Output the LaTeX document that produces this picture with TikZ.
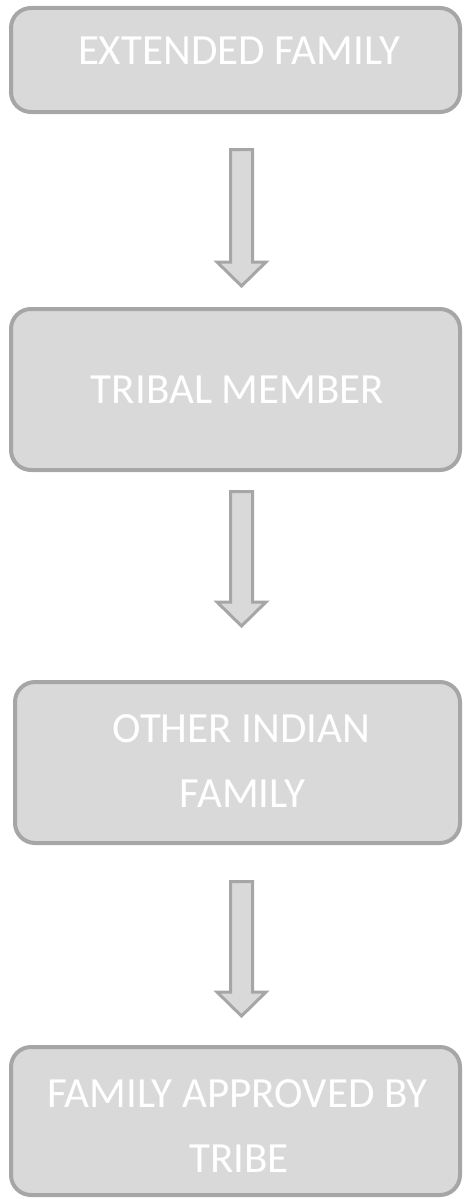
\documentclass[tikz,border=0pt]{standalone}
\usepackage{fontspec}
\setmainfont{Carlito}
\definecolor{boxfill}{HTML}{D9D9D9}
\definecolor{boxline}{HTML}{A6A6A6}
\tikzset{
  x=1pt, y=-1pt,
  stagebox/.style={draw=boxline, fill=boxfill, line width=4pt, rounded corners=20pt, inner sep=0pt},
  stagetext/.style={anchor=base, text=white, font=\fontsize{43}{51}\selectfont, inner sep=0pt},
  blockarrow/.style={draw=boxline, fill=boxfill, line width=3pt, line join=miter},
}
\newcommand{\downarrowshape}[3]{% x, top, tip (outer)
  \filldraw[blockarrow] (#1-11,#2+1.5) -- (#1+11,#2+1.5) -- (#1+11,#3-26) -- (#1+24.5,#3-26)
    -- (#1,#3-2) -- (#1-24.5,#3-26) -- (#1-11,#3-26) -- cycle;
}
\begin{document}
\begin{tikzpicture}
\useasboundingbox (0,0) rectangle (464,1199);
\node[stagebox, minimum width=449pt, minimum height=104pt] (b1) at (235.5,60) {};
\node[stagetext] (t1) at (239,65) {EXTENDED FAMILY};
\node[stagebox, minimum width=449pt, minimum height=161pt] (b2) at (235.5,389.5) {};
\node[stagetext] (t2) at (237.5,403) {TRIBAL MEMBER};
\node[stagebox, minimum width=445pt, minimum height=161pt] (b3) at (237.5,762.5) {};
\node[stagetext] (t3a) at (241.5,742) {OTHER INDIAN};
\node[stagetext] (t3b) at (242.5,807) {FAMILY};
\node[stagebox, minimum width=449pt, minimum height=148pt] (b4) at (235.5,1121) {};
\node[stagetext] (t4a) at (237.5,1107) {FAMILY APPROVED BY};
\node[stagetext] (t4b) at (239,1172) {TRIBE};
\downarrowshape{241.5}{148}{288}
\downarrowshape{241.5}{490}{628}
\downarrowshape{241.5}{880}{1018}
\end{tikzpicture}
\end{document}
